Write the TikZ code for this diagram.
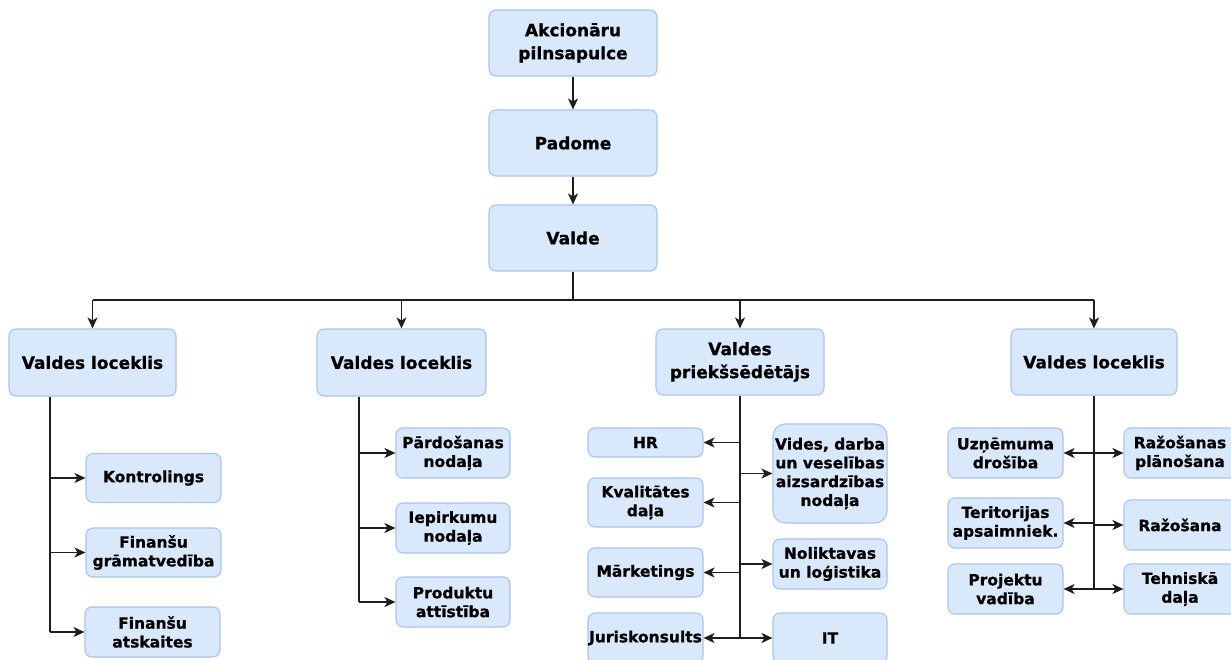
\documentclass[tikz,border=0pt]{standalone}
\usepackage{fontspec}
\setmainfont{DejaVu Sans}[BoldFeatures={FakeBold=0.8}]
\usetikzlibrary{arrows.meta}
\definecolor{boxfill}{HTML}{DAE8FC}
\definecolor{boxline}{HTML}{A9C4EB}
\definecolor{wire}{HTML}{1E1E1E}
\tikzset{
  box/.style={draw=boxline, fill=boxfill, line width=1.1pt, rounded corners=7pt,
    inner sep=0pt, align=center, text=black,
    font=\bfseries\fontsize{17}{23}\selectfont},
  sub/.style={box, font=\bfseries\fontsize{15.5}{18.8}\selectfont},
  wireline/.style={draw=wire, line width=1.7pt},
  arr/.style={wireline, -{Stealth[length=11pt,width=10pt,inset=3pt]}},
}
\begin{document}
\begin{tikzpicture}[x=1pt,y=-1pt]
\useasboundingbox (0,0) rectangle (1231,660);
% top chain
\node[box, minimum width=168, minimum height=66] (A) at (573,43) {Akcionāru\\pilnsapulce};
\node[box, minimum width=168, minimum height=66] (P) at (573,143) {Padome};
\node[box, minimum width=168, minimum height=66] (V) at (573,238) {Valde};
\draw[arr] (A.south) -- (P.north);
\draw[arr] (P.south) -- (V.north);
% level 2
\node[box, minimum width=167, minimum height=67] (L1) at (92.5,362.5) {Valdes loceklis};
\node[box, minimum width=169, minimum height=67] (L2) at (401.5,362.5) {Valdes loceklis};
\node[box, minimum width=168, minimum height=66] (L3) at (740,362) {Valdes\\priekšsēdētājs};
\node[box, minimum width=166, minimum height=66] (L4) at (1094,362) {Valdes loceklis};
\coordinate (bus) at (573,300);
\draw[wireline] (V.south) -- (bus);
\draw[wireline] (L1.north |- bus) -- (L4.north |- bus);
\foreach \n in {L1,L2,L3,L4} \draw[arr] (\n.north |- bus) -- (\n.north);
% branch 1
\node[sub, minimum width=135, minimum height=49] (K) at (153.5,478) {Kontrolings};
\node[sub, minimum width=135, minimum height=49] (FG) at (153.5,552.5) {Finanšu\\grāmatvedība};
\node[sub, minimum width=135, minimum height=50] (FA) at (152.5,632) {Finanšu\\atskaites};
\coordinate (t1) at (50,396);
\draw[wireline] (L1.south -| t1) -- (t1 |- FA.west);
\foreach \n in {K,FG,FA} \draw[arr] (t1 |- \n.west) -- (\n.west);
% branch 2
\node[sub, minimum width=114, minimum height=50] (PN) at (453,453) {Pārdošanas\\nodaļa};
\node[sub, minimum width=114, minimum height=50] (IN) at (453,528) {Iepirkumu\\nodaļa};
\node[sub, minimum width=114, minimum height=50] (PA) at (453,602) {Produktu\\attīstība};
\coordinate (t2) at (359,396);
\draw[wireline] (L2.south -| t2) -- (t2 |- PA.west);
\foreach \n in {PN,IN,PA} \draw[arr] (t2 |- \n.west) -- (\n.west);
% branch 3
\node[sub, minimum width=115, minimum height=29] (HR) at (645.5,442.5) {HR};
\node[sub, minimum width=115, minimum height=49] (KD) at (645.5,502.5) {Kvalitātes\\daļa};
\node[sub, minimum width=115, minimum height=49] (MK) at (645.5,572.5) {Mārketings};
\node[sub, minimum width=115, minimum height=50] (JK) at (645.5,638) {\makebox[0pt]{Juriskonsults}};
\node[sub, minimum width=114, minimum height=99, rounded corners=12pt] (VD) at (830,473.5) {Vides, darba\\un veselības\\aizsardzības\\nodaļa};
\node[sub, minimum width=114, minimum height=50] (NL) at (830,564) {Noliktavas\\un loģistika};
\node[sub, minimum width=114, minimum height=50] (IT) at (830,638) {IT};
\draw[wireline] (L3.south) -- (L3.south |- JK.east);
\foreach \n in {HR,KD,MK,JK} \draw[arr] (L3.south |- \n.east) -- (\n.east);
\foreach \n in {VD,NL,IT} \draw[arr] (L3.south |- \n.west) -- (\n.west);
% branch 4
\node[sub, minimum width=115, minimum height=50] (UD) at (1005.5,453) {Uzņēmuma\\drošība};
\node[sub, minimum width=115, minimum height=50] (TA) at (1005.5,523) {Teritorijas\\apsaimniek.};
\node[sub, minimum width=115, minimum height=50] (PV) at (1005.5,589) {Projektu\\vadība};
\node[sub, minimum width=112, minimum height=50] (RP) at (1180,453) {Ražošanas\\plānošana};
\node[sub, minimum width=112, minimum height=50] (RZ) at (1180,525) {Ražošana};
\node[sub, minimum width=112, minimum height=50] (TD) at (1180,589) {Tehniskā\\daļa};
\draw[wireline] (L4.south) -- (L4.south |- PV.east);
\foreach \n in {UD,TA,PV} \draw[arr] (L4.south |- \n.east) -- (\n.east);
\foreach \n in {RP,RZ,TD} \draw[arr] (L4.south |- \n.west) -- (\n.west);
\end{tikzpicture}
\end{document}
